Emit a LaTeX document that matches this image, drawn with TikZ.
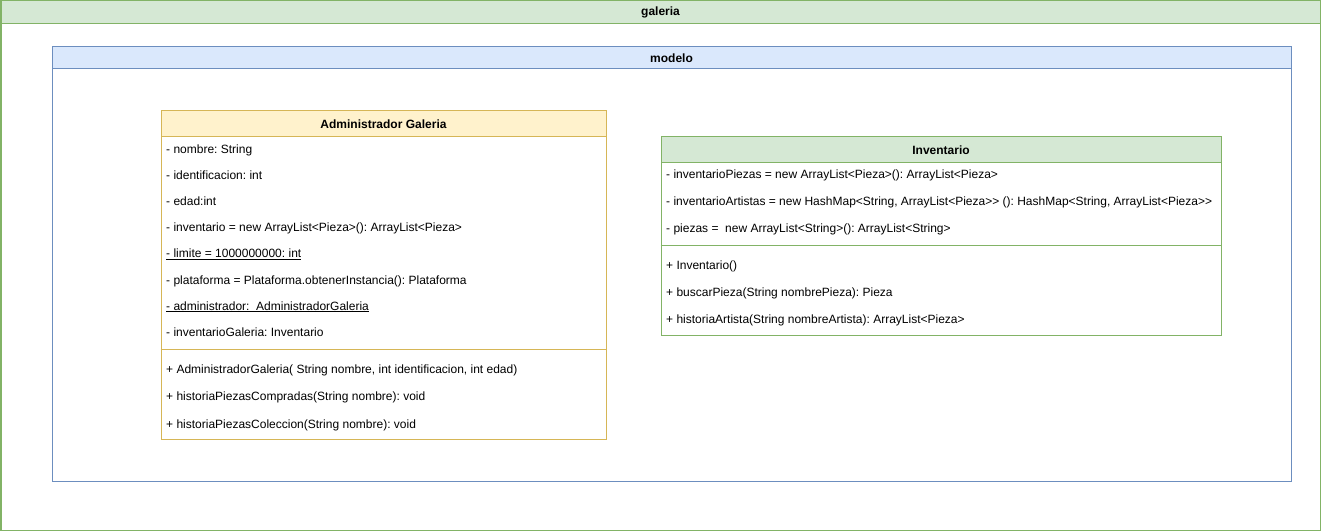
\documentclass[tikz,border=0pt]{standalone}
\usepackage{fontspec}
\setmainfont{Liberation Sans}
\usetikzlibrary{positioning}
\frenchspacing

\definecolor{greenfill}{HTML}{D5E8D4}
\definecolor{greenline}{HTML}{82B366}
\definecolor{bluefill}{HTML}{DAE8FC}
\definecolor{blueline}{HTML}{6C8EBF}
\definecolor{yellowfill}{HTML}{FFF2CC}
\definecolor{yellowline}{HTML}{D6B656}

\begin{document}
\begin{tikzpicture}[x=1bp, y=-1bp, font=\fontsize{12bp}{14bp}\selectfont,
  box/.style = {draw, line width=1bp, anchor=north west, inner sep=0pt},
  head/.style = {box, font=\fontsize{12bp}{14bp}\selectfont\bfseries},
  member/.style = {anchor=base west, inner sep=0pt}]
\useasboundingbox (0,0) rectangle (1321,532);

% package galeria
\node[box, draw=greenline, minimum width=1319bp, minimum height=529bp] (galeria) at (0.5,0.5) {};
\node[head, draw=greenline, fill=greenfill, minimum width=1319bp, minimum height=23bp] (galeriahead) at (0.5,0.5) {galeria};

% package modelo
\node[box, draw=blueline, minimum width=1239bp, minimum height=434bp] (modelo) at (51.5,46.5) {};
\node[head, draw=blueline, fill=bluefill, minimum width=1239bp, minimum height=22bp] (modelohead) at (51.5,46.5) {modelo};

% class Administrador Galeria
\node[box, draw=yellowline, minimum width=445bp, minimum height=328bp] (admin) at (160.5,110.5) {};
\node[head, draw=yellowline, fill=yellowfill, minimum width=445bp, minimum height=26bp] (adminhead) at (160.5,110.5) {Administrador Galeria};
\foreach \t [count=\i] in {{- nombre: String}, {- identificacion: int}, {- edad:int},
    {- inventario = new ArrayList<Pieza>(): ArrayList<Pieza>},
    {\underline{- limite = 1000000000: int}},
    {- plataforma = Plataforma.obtenerInstancia(): Plataforma},
    {\underline{- administrador:\ \ AdministradorGaleria}},
    {- inventarioGaleria: Inventario}}
  \node[member] (adminattr\i) at (166,{128+26*\i}) {\t};
\draw[yellowline, line width=1bp] (160.5,349.5) -- (605.5,349.5);
\foreach \t [count=\i] in {{+ AdministradorGaleria( String nombre, int identificacion, int edad)},
    {+ historiaPiezasCompradas(String nombre): void},
    {+ historiaPiezasColeccion(String nombre): void}}
  \node[member] (adminop\i) at (166,{345.5+27.5*\i}) {\t};

% class Inventario
\node[box, draw=greenline, minimum width=560bp, minimum height=198bp] (inv) at (660.5,136.5) {};
\node[head, draw=greenline, fill=greenfill, minimum width=560bp, minimum height=26bp] (invhead) at (660.5,136.5) {Inventario};
\foreach \t [count=\i] in {{- inventarioPiezas = new ArrayList<Pieza>(): ArrayList<Pieza>},
    {- inventarioArtistas = new HashMap<String, ArrayList<Pieza>{}> (): HashMap<String, ArrayList<Pieza>{}>},
    {- piezas =\ \ new ArrayList<String>(): ArrayList<String>}}
  \node[member] (invattr\i) at (666,{152+27*\i}) {\t};
\draw[greenline, line width=1bp] (660.5,245.5) -- (1220.5,245.5);
\foreach \t [count=\i] in {{+ Inventario()},
    {+ buscarPieza(String nombrePieza): Pieza},
    {+ historiaArtista(String nombreArtista): ArrayList<Pieza>}}
  \node[member] (invop\i) at (666,{242+27*\i}) {\t};
\end{tikzpicture}
\end{document}
